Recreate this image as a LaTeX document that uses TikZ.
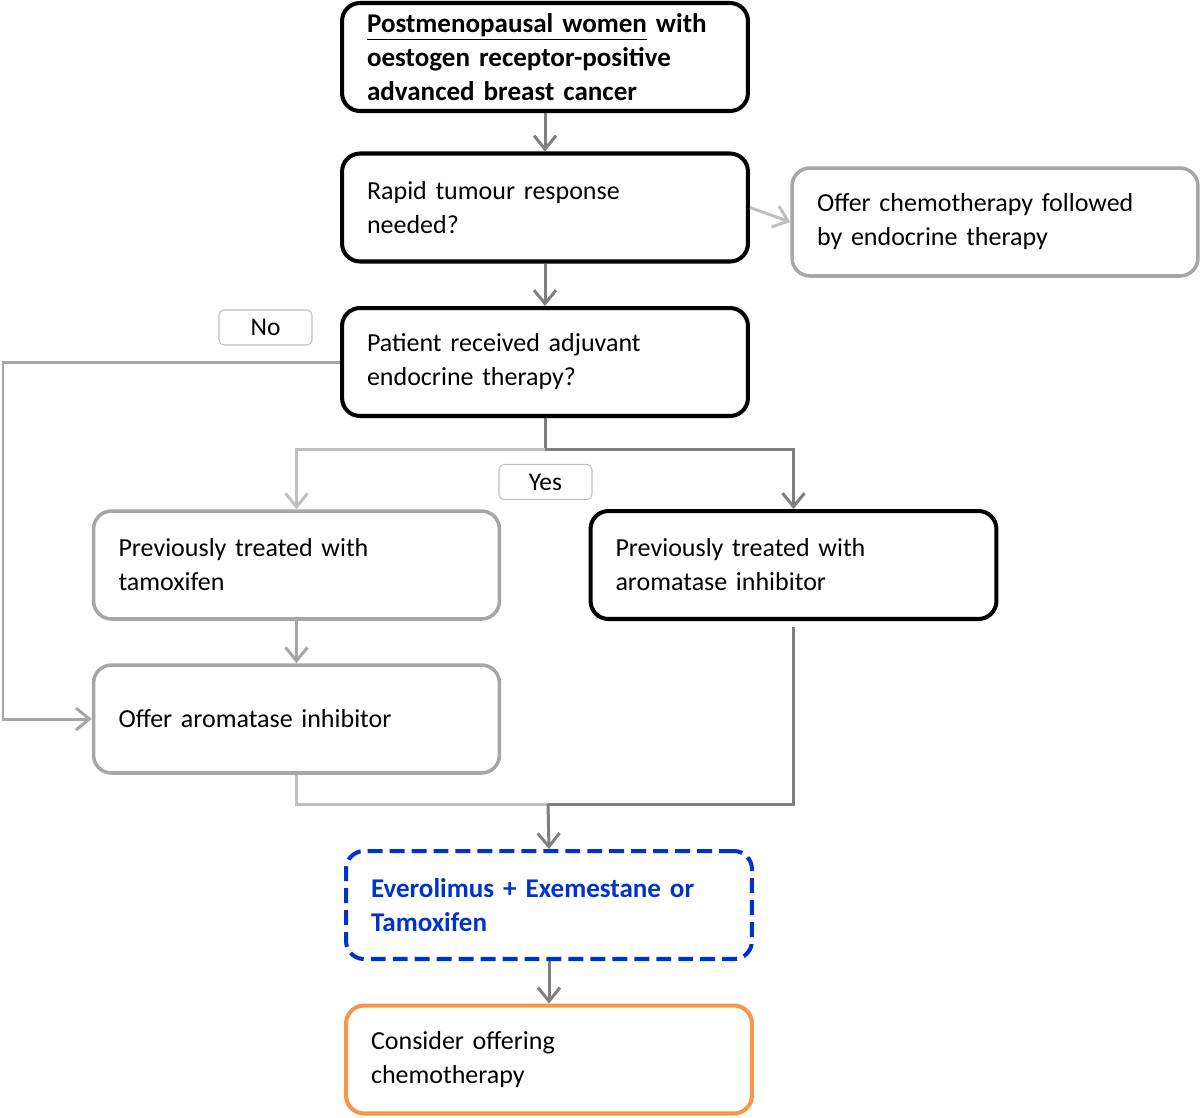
\documentclass[tikz,border=0pt]{standalone}
\usepackage{fontspec}
\setmainfont{Carlito}
\usetikzlibrary{arrows.meta}
\definecolor{darkln}{HTML}{7F7F7F}
\definecolor{lightln}{HTML}{BFBFBF}
\definecolor{greybd}{HTML}{A6A6A6}
\definecolor{evblue}{HTML}{0033CC}
\definecolor{chorange}{HTML}{F79646}
\tikzset{
  box/.style={draw=black, line width=2.3pt, rounded corners=0.36cm,
    minimum width=8.12cm, minimum height=2.16cm, text width=7.12cm,
    align=left, inner xsep=0.5cm, font=\fontsize{14.8}{19.4}\selectfont},
  greybox/.style={box, draw=greybd, line width=2pt},
  boldtext/.style={font=\fontsize{15.4}{19.4}\selectfont\bfseries},
  tag/.style={draw=lightln, line width=0.6pt, rounded corners=0.1cm,
    minimum width=1.86cm, minimum height=0.7cm, inner sep=0pt,
    font=\fontsize{14.5}{18}\selectfont},
  dkarrow/.style={draw=darkln, line width=1.7pt},
  ltarrow/.style={draw=lightln, line width=1.7pt},
  >={Straight Barb[length=0.27cm,width=0.44cm]}
}
\begin{document}
\begin{tikzpicture}[x=0.02cm, y=-0.02cm]
      \useasboundingbox (0,0) rectangle (1200,1117);
      % cajas
      \node[box, boldtext] (women) at (545,57)
        {\underline{Postmenopausal women} with\\ oestogen receptor-positive\\ advanced breast cancer};
      \node[box] (rapid) at (545,207.5) {Rapid tumour response\\ needed?};
      \node[greybox] (chemo) at (995,222) {Offer chemotherapy followed\\ by endocrine therapy};
      \node[box] (adjuv) at (545,362) {Patient received adjuvant\\ endocrine therapy?};
      \node[greybox] (tamox) at (296.5,565) {Previously treated with\\ tamoxifen};
      \node[box] (aroma) at (793.5,565) {Previously treated with\\ aromatase inhibitor};
      \node[greybox] (offerai) at (296.5,719) {Offer aromatase inhibitor};
      \node[box, boldtext, draw=evblue, dash pattern=on 8.5pt off 4pt, text=evblue]
        (everol) at (549,905) {Everolimus + Exemestane or\\ Tamoxifen};
      \node[box, draw=chorange] (consid) at (549,1059.5) {Consider offering\\ chemotherapy};

      % etiquetas
      \node[tag] (no) at (265.5,327.5) {No};
      \node[tag] (yes) at (545.5,482) {Yes};

      % puntos de cruce
      \coordinate (noturn) at (3,362);
      \coordinate (split) at (545,449);
      \coordinate (merge) at (548,804);

      % flechas
      \draw[dkarrow, ->] (women) -- (rapid);
      \draw[ltarrow, ->] (rapid.east) -- (chemo.west);
      \draw[dkarrow, ->] (rapid) -- (adjuv);
      \draw[greybd, line width=1.7pt, ->] (adjuv.west) -- (noturn) |- (offerai.west);
      \draw[dkarrow] (adjuv.south) -- (split);
      \draw[ltarrow, ->] (split) -| (tamox.north);
      \draw[dkarrow, ->] (split) -| (aroma.north);
      \draw[greybd, line width=1.7pt, ->] (tamox) -- (offerai);
      \draw[ltarrow] (offerai.south) |- (merge);
      \draw[dkarrow, shorten <=0.12cm] (aroma.south) |- (merge);
      \draw[dkarrow, ->] (merge) -- (everol.north);
      \draw[dkarrow, ->] (everol) -- (consid);
\end{tikzpicture}
\end{document}
